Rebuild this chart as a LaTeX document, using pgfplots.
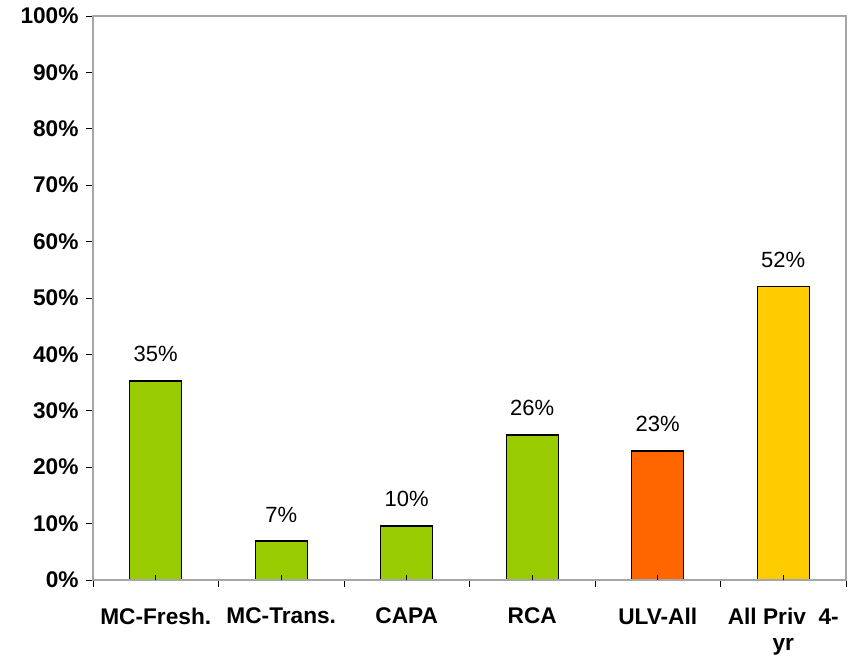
\documentclass[border=0pt]{standalone}
\usepackage{fontspec}
\setmainfont{Liberation Sans}
\usepackage{pgfplots}
\pgfplotsset{compat=1.18}
\definecolor{BarGreen}{RGB}{153,204,0}
\definecolor{BarOrange}{RGB}{255,102,0}
\definecolor{BarYellow}{RGB}{255,204,0}
\begin{document}
\fontsize{17}{20}\selectfont
\begin{tikzpicture}
  % page: 861x663 px at 0.75pt/px, axis box from (93,16) to (846,580)
  \useasboundingbox (-69.75pt,-62.25pt) rectangle (576pt,435pt);
  \begin{axis}[
      at={(0,0)}, anchor=south west,
      scale only axis,
      width=564.75pt, height=423pt,
      xmin=-0.5, xmax=5.5,
      ymin=0, ymax=100,
      ytick={0,10,...,100},
      yticklabel={\pgfmathprintnumber{\tick}\%},
      xtick={-0.5,0.5,...,5.5},
      xticklabels={},
      extra x ticks={0,1,2,3,4,5},
      extra x tick labels={MC-Fresh.,MC-Trans.,CAPA,RCA,ULV-All,{All Priv\ \ 4-\\yr}},
      extra x tick style={tick align=inside, major tick length=3.75pt},
      xtick pos=bottom, ytick pos=left,
      tick align=outside,
      major tick length=5pt,
      tick style={black, line width=0.6pt},
      axis on top,
      /pgf/number format/assume math mode=true,
      tick label style={font=\fontsize{17}{20}\selectfont\bfseries},
      xticklabel style={align=center, yshift=-15pt},
      axis line style={gray!70, line width=0.8pt},
      ybar, bar width=39pt, bar shift=0pt,
      nodes near coords={\pgfmathprintnumber[fixed,precision=0]{\pgfplotspointmeta}\%},
      every node near coord/.append style={font=\fontsize{16.5}{19}\selectfont, black, yshift=8pt},
      clip=false,
    ]
    \addplot[fill=BarGreen, draw=black, line width=1pt] coordinates {
      (0,35.3) (1,6.9) (2,9.6) (3,25.7)
    };
    \addplot[fill=BarOrange, draw=black, line width=1pt] coordinates {
      (4,22.9)
    };
    \addplot[fill=BarYellow, draw=black, line width=1pt] coordinates {
      (5,52.0)
    };
    \draw[black, line width=0.9pt] (rel axis cs:0,1) -- (rel axis cs:0,0) -- (rel axis cs:1,0);
  \end{axis}
\end{tikzpicture}
\end{document}
